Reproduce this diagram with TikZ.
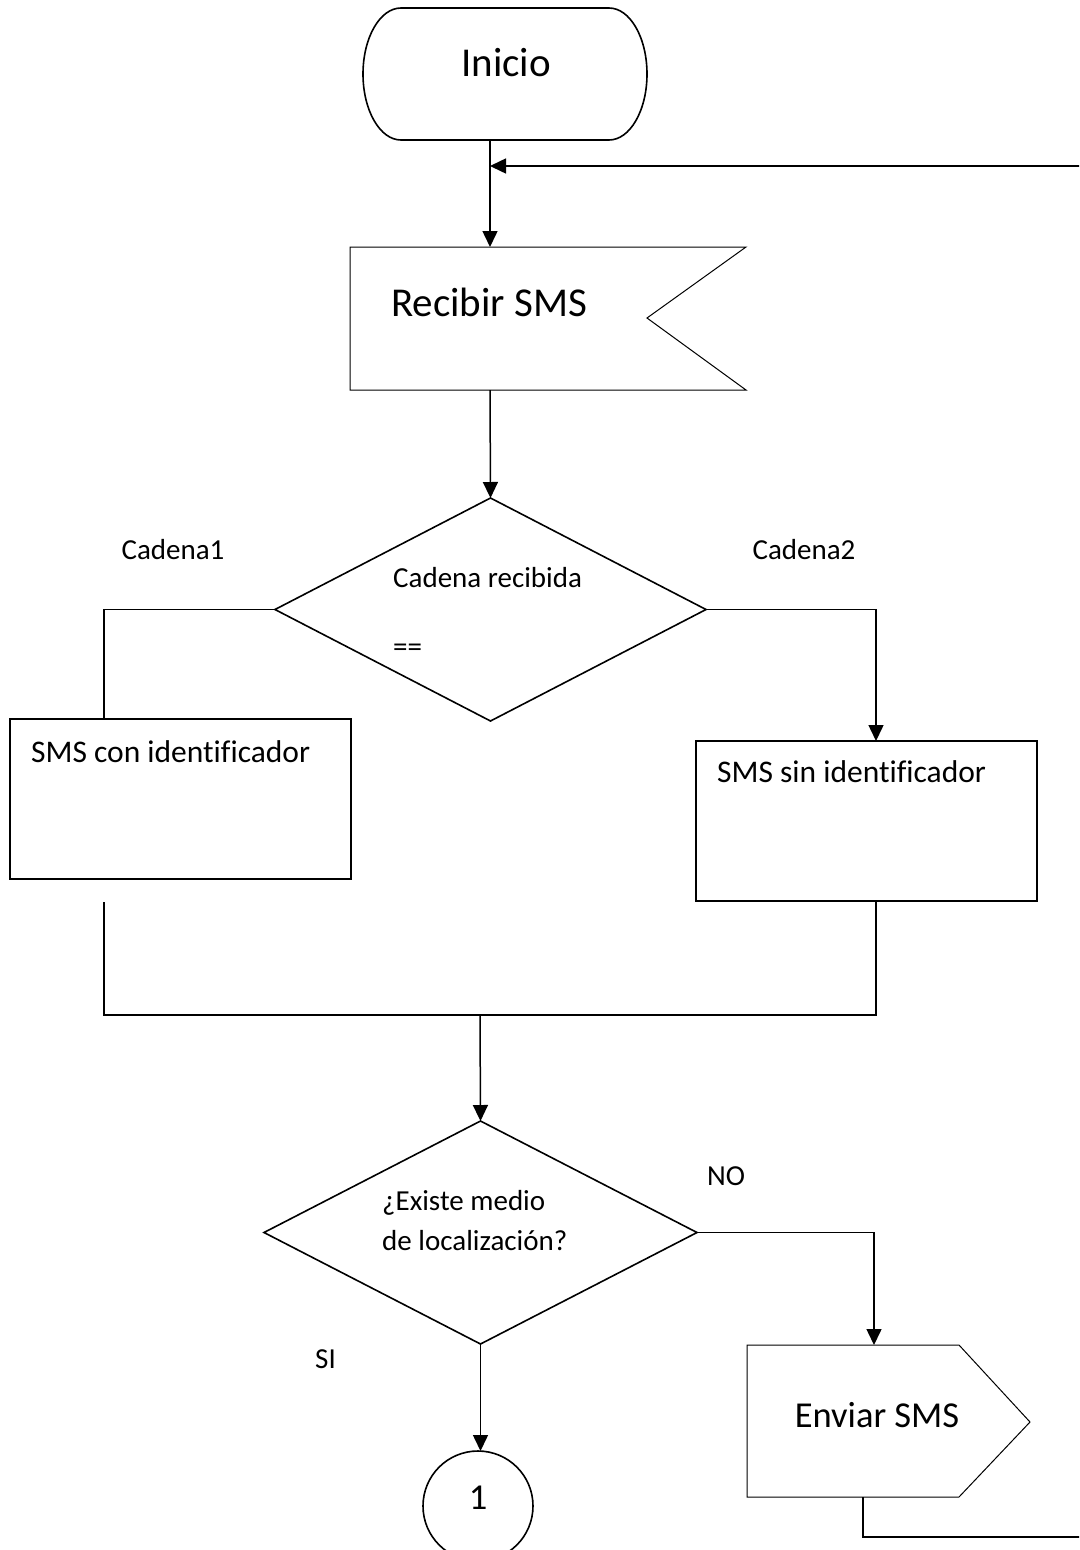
\documentclass[tikz,border=0pt]{standalone}
\usepackage{fontspec}
\setmainfont[Ligatures=NoCommon]{Carlito}
\usetikzlibrary{arrows.meta}
\begin{document}
\begin{tikzpicture}[x=1pt,y=-1pt,
  conn/.style={line width=1.5pt},
  arr/.style={conn,-{Triangle[length=16pt,width=15pt]}},
  thinoutl/.style={line width=1pt},
  outl/.style={line width=1.6pt},
  hold/.style={draw=none,inner sep=0pt,outer sep=0pt},
  big/.style={inner sep=0pt,font=\fontsize{41}{49}\selectfont},
  midtxt/.style={inner sep=0pt,font=\fontsize{36.5}{44}\selectfont},
  boxtxt/.style={inner sep=0pt,anchor=base west,font=\fontsize{31.5}{38}\selectfont},
  small/.style={inner sep=0pt,font=\fontsize{29}{38}\selectfont}]
\useasboundingbox (0,0) rectangle (1079,1550);
\clip (0,0) rectangle (1079,1550);

% named coordinates for connector ends
\coordinate (inib) at (490,140);
\coordinate (rect) at (490,247);
\coordinate (recb) at (490,390);
\coordinate (loopend) at (490,166);
\coordinate (blt) at (104,719);
\coordinate (brt) at (876,741);
\coordinate (blb) at (104,902);
\coordinate (brb) at (876,902);
\coordinate (mrg) at (480,1015);
\coordinate (envt) at (874,1345);
\coordinate (envb) at (863,1497);
\coordinate (lp1) at (863,1537);
\coordinate (lp2) at (1095,1537);
\coordinate (lp3) at (1095,166);

% Inicio
\draw[outl] (401,8) -- (609,8) arc[start angle=-90,end angle=90,x radius=38,y radius=66]
  -- (401,140) arc[start angle=90,end angle=270,x radius=38,y radius=66] -- cycle;
\node[big,anchor=base] (ini) at (506,76) {Inicio};

% Recibir SMS
\draw[thinoutl] (350,247) -- (746,247) -- (647,318) -- (746,390) -- (350,390) -- cycle;
\node[big,anchor=base] (rec) at (489,316) {Recibir SMS};

% Diamond 1
\node[hold,minimum width=431pt,minimum height=223pt] (d1) at (490.5,609.5) {};
\draw[outl] (d1.north) -- (d1.east) -- (d1.south) -- (d1.west) -- cycle;
\node[small,anchor=base west] (d1t) at (393,587) {Cadena recibida};
\node[small,anchor=base west] (d1e) at (393,656) {==};
\node[small,anchor=base] (lc1) at (173,559) {Cadena1};
\node[small,anchor=base] (lc2) at (804,559) {Cadena2};

% Boxes
\node[hold,draw,outl,minimum width=341pt,minimum height=160pt] (bl) at (180.5,799) {};
\node[boxtxt] (bltx) at (31,762) {SMS con identificador};
\node[hold,draw,outl,minimum width=341pt,minimum height=160pt] (br) at (866.5,821) {};
\node[boxtxt] (brtx) at (717,782) {SMS sin identificador};

% Diamond 2
\node[hold,minimum width=433pt,minimum height=223pt] (d2) at (480.5,1232.5) {};
\draw[outl] (d2.north) -- (d2.east) -- (d2.south) -- (d2.west) -- cycle;
\node[small,anchor=base west] (d2a) at (382,1210) {¿Existe medio};
\node[small,anchor=base west] (d2b) at (382,1250) {de localización?};
\node[small,anchor=base west] (lno) at (707,1185) {NO};
\node[small,anchor=base west] (lsi) at (315,1368) {SI};

% Enviar SMS
\draw[thinoutl] (747,1345) -- (959,1345) -- (1030,1422) -- (959,1497) -- (747,1497) -- cycle;
\node[midtxt,anchor=base] (env) at (877,1427) {Enviar SMS};

% Connector circle
\node[hold,draw,outl,circle,minimum size=110pt] (c1) at (478,1506) {};
\node[midtxt,anchor=base] (c1t) at (478,1509) {1};

% Connectors
\draw[arr] (inib) -- (rect);
\draw[arr] (recb) -- (d1.north);
\draw[conn] (d1.west) -| (blt);
\draw[arr] (d1.east) -| (brt);
\draw[conn] (blb) |- (mrg) -| (brb);
\draw[arr] (mrg) -- (d2.north);
\draw[arr] (d2.east) -| (envt);
\draw[arr] (d2.south) -- (d2.south |- c1.north);
\draw[arr] (envb) -- (lp1) -- (lp2) -- (lp3) -- (loopend);
\end{tikzpicture}
\end{document}
